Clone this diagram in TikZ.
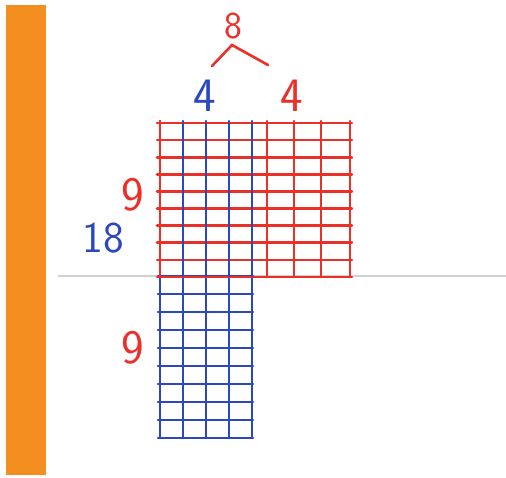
\documentclass[tikz,border=0pt]{standalone}
\usetikzlibrary{positioning}
\definecolor{penred}{RGB}{236,48,40}
\definecolor{penblue}{RGB}{44,72,190}
\definecolor{barorange}{RGB}{245,142,32}

\begin{document}
\begin{tikzpicture}[x=1pt, y=-1pt, redline/.style={penred, line width=2.6pt, line cap=round}, blueline/.style={penblue, line width=2.6pt, line cap=round}, label/.style={font=\sffamily, inner sep=0pt}]
\useasboundingbox (0,0) rectangle (506,477);
\fill[barorange] (6,5) rectangle (46,475);
\draw[gray!35, line width=1.2pt] (58,276)--(506,276);
% blue strip, 4 by 18
\foreach \i in {0,...,4} \draw[blueline] (160+\i*23,121)--(160+\i*23,438);
\foreach \j in {9,...,18} \draw[blueline] (158,276+\j*18-9*18)--(253,276+\j*18-9*18);
% red block, 8 by 9
\foreach \j in {0,...,9} \draw[redline] (157,123+\j*17.1)--(352,123+\j*17.1);
\foreach \x in {160,267,294,321,350} \draw[redline] (\x,121)--(\x,277);
\foreach \i in {1,2,3,4} \draw[blueline] (160+\i*23,123)--(160+\i*23,276);
% labels
\node[label, penred, font=\sffamily\fontsize{38}{38}\selectfont] (eight) at (233,26) {8};
\draw[redline] (212,66)--(232,45)--(268,65);
\node[label, penblue, font=\sffamily\fontsize{48}{48}\selectfont] (fourL) at (205,96) {4};
\node[label, penred, font=\sffamily\fontsize{48}{48}\selectfont] (fourR) at (292,96) {4};
\node[label, penred, font=\sffamily\fontsize{48}{48}\selectfont] (nineT) at (133,195) {9};
\node[label, penblue, font=\sffamily\fontsize{44}{44}\selectfont] (eighteen) at (103,238) {18};
\node[label, penred, font=\sffamily\fontsize{48}{48}\selectfont] (nineB) at (133,348) {9};
\end{tikzpicture}
\end{document}
